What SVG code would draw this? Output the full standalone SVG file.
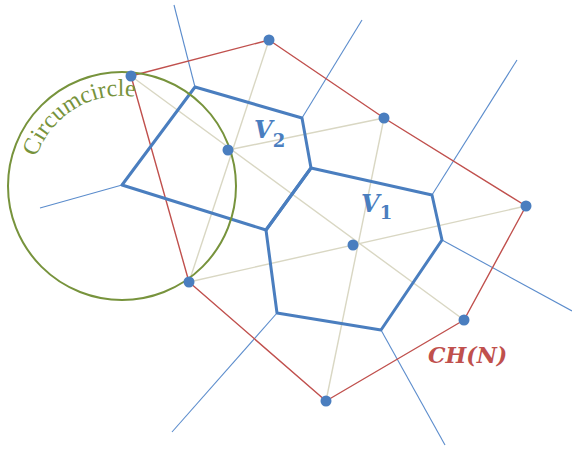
<svg xmlns="http://www.w3.org/2000/svg" width="572" height="449" viewBox="0 0 572 449">
  <style>
    .hull { fill: none; stroke: #c0504d; stroke-width: 1.4; stroke-linejoin: round; }
    .del { fill: none; stroke: #d9d7c3; stroke-width: 1.4; }
    .ray { fill: none; stroke: #5b8ccc; stroke-width: 1.1; }
    .cell { fill: none; stroke: #4a7ebf; stroke-width: 3; stroke-linejoin: round; }
    .circ { fill: none; stroke: #77933c; stroke-width: 2; }
    .pt { fill: #4a7ebf; }
    .lbl { font-family: "DejaVu Serif", "Liberation Serif", serif; font-weight: bold; font-style: italic; }
  </style>
  <defs>
    <path id="arc" d="M 36.5 157 A 90 90 0 0 1 167 108"/>
  </defs>
  <rect width="572" height="449" fill="#ffffff"/>

  <g id="connectors">
    <!-- Delaunay edges -->
    <g class="del">
      <line x1="131" y1="76" x2="464" y2="320"/>
      <line x1="228" y1="150" x2="384" y2="118"/>
      <line x1="269" y1="40" x2="189" y2="282"/>
      <line x1="384" y1="118" x2="326" y2="401"/>
      <line x1="189" y1="282" x2="526" y2="206"/>
    </g>
    <!-- unbounded Voronoi edges -->
    <g class="ray">
      <line x1="195" y1="87" x2="174" y2="5"/>
      <line x1="302" y1="118" x2="362" y2="20"/>
      <line x1="122" y1="185" x2="40" y2="208"/>
      <line x1="432" y1="195" x2="517" y2="60"/>
      <line x1="442" y1="240" x2="572" y2="311"/>
      <line x1="381" y1="330" x2="445" y2="445"/>
      <line x1="277" y1="313" x2="172" y2="432"/>
    </g>
    <!-- convex hull -->
    <polygon id="hull" class="hull" points="131,76 269,40 384,118 526,206 464,320 326,401 189,282"/>
  </g>

  <g id="cell-v2">
    <polygon class="cell" points="195,87 302,118 311,168 266,230 122,185"/>
    <text class="lbl" x="254" y="138" font-size="24" fill="#4a7ebf">V<tspan font-size="18" font-style="normal" dy="9">2</tspan></text>
  </g>
  <g id="cell-v1">
    <polygon class="cell" points="311,168 432,195 442,240 381,330 277,313 266,230"/>
    <text class="lbl" x="361" y="212" font-size="24" fill="#4a7ebf">V<tspan font-size="18" font-style="normal" dy="7">1</tspan></text>
  </g>

  <g id="circumcircle">
    <circle class="circ" cx="122" cy="186" r="114"/>
    <text font-family="Liberation Serif, DejaVu Serif, serif" font-size="24" fill="#77933c"><textPath href="#arc">Circumcircle</textPath></text>
  </g>

  <g id="sites">
    <circle class="pt" cx="131" cy="76" r="5.5"/>
    <circle class="pt" cx="269" cy="40" r="5.5"/>
    <circle class="pt" cx="384" cy="118" r="5.5"/>
    <circle class="pt" cx="228" cy="150" r="5.5"/>
    <circle class="pt" cx="526" cy="206" r="5.5"/>
    <circle class="pt" cx="353" cy="245" r="5.5"/>
    <circle class="pt" cx="189" cy="282" r="5.5"/>
    <circle class="pt" cx="464" cy="320" r="5.5"/>
    <circle class="pt" cx="326" cy="401" r="5.5"/>
  </g>

  <g id="hull-label">
    <text class="lbl" x="428" y="363" font-size="22" fill="#c0504d">CH(N)</text>
  </g>
</svg>
